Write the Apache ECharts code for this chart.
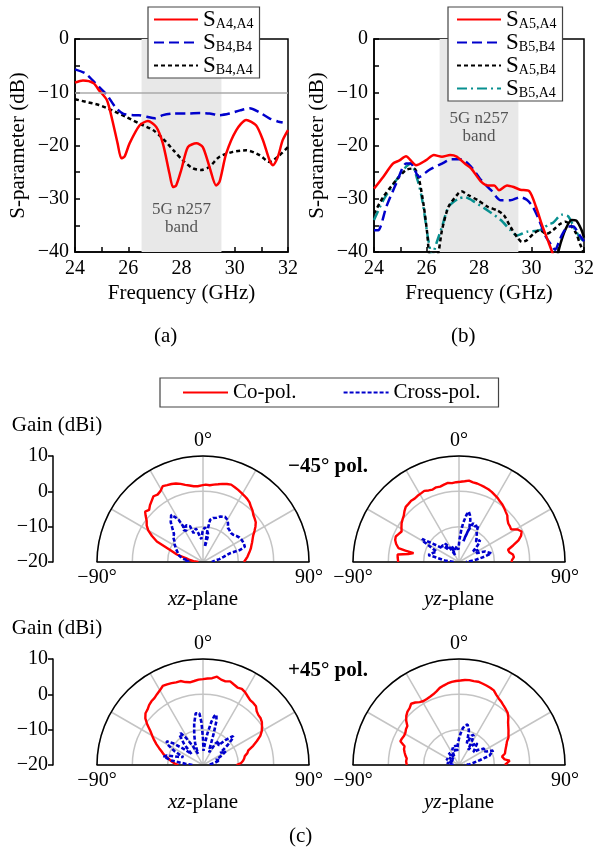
<!DOCTYPE html>
<html><head><meta charset="utf-8">
<script src="https://cdn.jsdelivr.net/npm/echarts@6/dist/echarts.min.js"></script>
<style>html,body{margin:0;padding:0;background:#fff}#c{width:597px;height:850px}</style>
</head><body><div id="c"></div>
<script>
// ---------- (a) data ----------
const aF_A4A4 = [24.0,24.3,24.7,24.9,25.2,25.4,25.6,25.74,25.86,26.05,26.43,26.74,27.05,27.3,27.55,27.68,27.8,27.99,28.24,28.56,28.8,29.05,29.3,29.43,29.68,30.06,30.43,30.8,31.06,31.31,31.43,31.62,31.8,32.0];
const aDb_A4A4 = [-8.2,-7.8,-8.3,-9.6,-11.5,-15.2,-19.6,-22.4,-22.1,-19.6,-16.2,-15.4,-16.5,-19.6,-25.3,-27.8,-27.5,-24.6,-20.3,-19.6,-20.3,-24.0,-27.5,-26.8,-21.5,-17.1,-15.2,-16.2,-19.0,-22.8,-23.7,-22.1,-19.0,-17.1];
const aF_B4B4 = [24,24.4,24.9,25.2,25.5,25.8,26.2,26.4,26.7,27.0,27.3,27.7,28.2,28.7,29.05,29.43,29.8,30.2,30.56,30.9,31.3,31.62,31.8];
const aDb_B4B4 = [-5.7,-6.5,-9.0,-10.5,-12.7,-14.0,-14.3,-14.3,-14.6,-14.9,-14.3,-14.0,-14.0,-13.9,-14.0,-14.3,-14.0,-13.4,-13.0,-13.7,-14.9,-15.5,-15.7];
const aF_B4A4 = [24,24.4,24.9,25.4,25.9,26.43,26.93,27.3,27.7,28.05,28.43,28.74,29.05,29.43,29.93,30.43,30.93,31.3,31.62,32.0];
const aDb_B4A4 = [-11.3,-11.8,-12.4,-13.4,-14.6,-15.9,-17.1,-18.7,-20.9,-22.8,-24.3,-24.6,-24.0,-22.1,-21.2,-20.9,-21.8,-23.1,-22.1,-20.3];
// ---------- (b) data ----------
const bF_A5A4 = [24,24.35,24.72,24.97,25.22,25.4,25.6,25.97,26.28,26.59,26.9,27.15,27.46,27.7,28.08,28.33,28.58,28.76,29.07,29.32,29.57,29.92,30.17,30.42,30.66,30.82,31.0,31.5,32];
const bDb_A5A4 = [-28.1,-25.9,-23.4,-22.8,-22.0,-22.8,-23.7,-22.8,-21.8,-22.1,-21.8,-22.1,-23.4,-24.3,-26.8,-27.5,-27.5,-28.4,-27.5,-27.8,-28.3,-28.6,-31.5,-35.2,-38.3,-40.5,-44,-48,-48];
const bF_B5B4 = [24,24.16,24.47,24.85,25.22,25.4,25.72,26.1,26.59,26.96,27.33,27.7,28.08,28.46,28.83,29.2,29.57,29.82,30.05,30.29,30.54,30.8,30.9,31.03,31.16,31.4,31.6,31.78,32];
const bDb_B5B4 = [-35.9,-35.9,-31.5,-27.1,-23.4,-23.4,-25.9,-24.6,-23.4,-22.6,-22.6,-24.0,-26.5,-28.4,-30.3,-30.3,-29.7,-30.2,-31.5,-34.0,-37.1,-39.0,-39.6,-38.3,-36.8,-35.2,-35.2,-36.5,-38.0];
const bF_A5B4 = [24,24.35,24.85,25.22,25.53,25.72,25.9,26.03,26.09,26.25,26.46,26.59,26.84,27.21,27.33,27.58,27.96,28.33,28.7,28.95,29.2,29.45,29.63,29.82,30.07,30.32,30.57,30.82,31.07,31.3,31.5,31.7,31.85,32];
const bDb_A5B4 = [-32.8,-29.7,-26.5,-24.6,-24.3,-26.5,-31.5,-36.6,-40,-44,-40,-35.9,-31.5,-29.0,-28.6,-29.3,-30.3,-31.5,-32.2,-33.1,-35.3,-37.2,-38.1,-37.8,-36.6,-35.9,-36.6,-35.9,-34.8,-34.3,-35.0,-36.5,-38.5,-40.2];
const bF_B5A4 = [24,24.35,24.85,25.22,25.4,25.66,25.84,26.03,26.15,26.22,26.28,26.59,26.84,27.21,27.46,27.83,28.33,28.83,29.2,29.45,29.82,30.32,30.66,30.82,31.16,31.4,31.66,31.85,32];
const bDb_B5A4 = [-34.0,-30.3,-26.5,-24.0,-23.4,-26.5,-30.3,-36.6,-40,-43,-40,-35.3,-31.5,-30.0,-29.7,-30.6,-32.2,-34.0,-35.9,-36.9,-36.2,-35.9,-34.8,-34.5,-33.0,-33.3,-35.8,-37.3,-38];
const bF_solid = [30.95,31.1,31.29,31.53,31.7,31.9,32];
const bDb_solid = [-41.5,-38.5,-35.8,-34.0,-34.1,-35.8,-37.3];
const bandStart = 26.5, bandEnd = 29.5, refLevel = -10;
const bandLabel = '5G n257\nband';
// ---------- (c) data: [angle (deg), gain (dBi)] ----------
const p1CoAng = [-90,-85,-80,-77,-74,-70,-66,-63,-60,-57,-54,-51,-49,-46,-43,-40,-37,-34,-31,-28,-25,-22,-19,-16,-13,-10,-7,-4,-1,2,5,8,11,14,17,20,23,26,29,32,35,38,41,44,47,50,53,56,59,62,65,68,71,74,77,80,83,86,90];
const p1CoGain = [-18.7,-17.3,-15.8,-15.0,-12.3,-10.1,-5.7,-3.8,-2.1,-1.0,-0.3,0.9,1.7,1.2,2.0,2.6,3.3,3.0,3.4,4.3,4.0,3.8,3.5,3.0,2.4,2.0,1.6,1.5,1.7,1.9,1.8,2.1,2.4,2.8,3.1,3.3,3.0,2.7,2.4,2.1,1.8,1.4,0.7,0.2,-0.5,-0.9,-1.3,-2.1,-3.0,-3.9,-4.5,-5.0,-5.5,-5.9,-6.4,-6.9,-7.3,-7.8,-8.4];
const p1XAng = [-90,-85,-80,-74,-70,-64,-58,-54,-50,-46,-42,-39,-36,-34,-32,-30,-29,-31,-28,-25,-23,-20,-18,-15,-12,-9,-7,-4,-1,1,3,6,9,11,9,7,8,9.5,13,17,21,26,30,33,36,40,44,48,52,56,60,65,70,72,72,76,80,85,90];
const p1XGain = [-15,-16,-14,-12.8,-12.4,-11.5,-10.5,-10,-9,-8.6,-7,-5.5,-4.6,-3.9,-5,-6.2,-8.5,-9.5,-10,-8.5,-8.2,-9.2,-11.4,-11,-10.3,-11.8,-12.7,-13.5,-11.5,-10.8,-10.2,-9.9,-11.5,-12.2,-14.5,-15.7,-11,-7.9,-7.2,-6.9,-6.2,-5.8,-6.2,-7,-8,-8.3,-8.6,-8.5,-8,-7.6,-7.4,-7.3,-7.4,-9.0,-12,-14,-15.3,-16.8,-17.5];
const p2CoAng = [-90,-86,-83,-81,-79,-78,-77,-74,-71,-68,-65,-62,-59,-56,-53,-50,-47,-44,-41,-38,-35,-32,-29,-26,-23,-20,-17,-14,-11,-8,-5,-2,1,4,7,10,13,16,19,22,25,28,31,34,37,40,43,46,49,52,55,58,61,64,67,70,73,76,79,82,85,88,90];
const p2CoGain = [-2.8,-2.6,-2.5,-5.5,-6.9,-4.5,-2.4,-1.5,-0.9,-0.7,-1.2,-1.6,-1.0,-0.4,0.0,0.4,1.1,1.7,1.8,2.0,1.9,2.1,2.2,2.4,2.0,1.8,2.1,2.0,2.3,2.6,2.4,2.6,2.7,2.9,3.2,2.9,2.8,2.6,2.4,2.2,1.9,1.5,1.2,0.7,0.4,-0.1,-0.6,-1.0,-1.8,-2.3,-2.4,-2.6,-1.0,-0.3,-0.9,-2.1,-4.0,-5.7,-5.5,-4.6,-4.4,-5.0,-5.1];
const p2XAng = [-90,-84,-77,-72,-65,-60,-58,-55,-50,-45,-40,-37,-33,-29,-25,-20,-14,-8,-3,1,4,6,9,11,13,15,17,14,12,16,20,24,27.6,30,35,40,44,48,53,58,63,68,75,78,82,85,90];
const p2XGain = [-18.5,-16,-11.1,-12,-13,-8.5,-7.7,-10.9,-14,-13.2,-15.5,-13.4,-15,-17.7,-15.2,-16.5,-17,-15.5,-16.5,-13.8,-11,-9,-6.5,-5.5,-6.3,-7.6,-10,-12.5,-14,-11,-8.3,-9,-8.2,-10,-11.2,-12.5,-11.4,-12.8,-15,-13.6,-14.5,-12,-10.5,-12.5,-15,-16.4,-18];
const p3CoAng = [-90,-87,-84,-81,-78,-75,-72,-69,-66,-63,-60,-57,-54,-51,-48,-45,-42,-39,-36,-33,-30,-27,-24,-21,-18,-15,-12,-9,-6,-3,0,3,6,9,12,15,18,21,24,27,30,33,36,39,42,45,48,51,54,57,60,63,66,69,72,75,78,81,84,87,90];
const p3CoGain = [-13.0,-12.0,-11.2,-10.6,-9.5,-8.5,-7.7,-6.7,-5.6,-4.5,-3.4,-2.2,-0.5,1.0,1.9,2.2,2.8,3.2,3.4,3.9,4.4,5.1,5.0,4.8,4.6,4.6,4.0,3.7,3.9,4.2,4.3,4.5,4.7,5.3,4.7,4.5,4.9,4.4,4.0,4.2,3.8,3.2,2.7,2.6,2.4,1.5,1.1,1.0,0.6,-0.1,-0.8,-1.8,-3.3,-4.8,-6.5,-7.0,-7.9,-8.2,-8.6,-9.2,-10.5];
const p3XAng = [-90,-86,-82,-78,-75,-72,-68,-64,-60,-57,-54,-50,-46,-42,-38,-35,-32,-28,-24,-20,-16,-12,-8,-6,-4,-2,0,2,5,8,11,13,15,17,19,22,26,30,34,38,42,46,48,51,55,59,63,68,74,80,86,90];
const p3XGain = [-17,-15,-11,-8.6,-9.5,-12.5,-14,-11,-8.5,-7.7,-9.5,-13,-15.5,-12,-9.3,-9,-11,-14,-16.5,-13.5,-11,-8,-5.2,-4.8,-5.3,-8,-12.5,-16,-14,-11,-7.5,-5.8,-5.3,-7,-11,-15,-16,-13,-11.8,-13,-10.5,-8.2,-8.6,-11,-14,-12.5,-14,-16,-15,-16.8,-18,-18.5];
const p4CoAng = [-90,-86,-83,-80,-77,-74,-71,-68,-65,-62,-59,-56,-53,-50,-47,-44,-41,-38,-35,-32,-29,-26,-23,-20,-17,-14,-11,-8,-5,-2,1,4,7,10,13,16,19,22,25,28,31,34,37,40,43,46,49,52,55,58,61,64,67,70,73,76,79,81,83,85,87,90];
const p4CoGain = [-5.2,-5.0,-5.1,-4.6,-4.2,-3.8,-3.7,-2.1,-2.2,-2.4,-2.3,-1.9,-1.7,-0.5,0.4,1.0,1.3,2.0,1.6,1.0,0.7,0.8,1.0,1.3,1.8,2.5,2.9,3.3,3.6,3.8,3.9,4.1,4.2,4.1,4.2,4.0,3.8,3.6,3.3,2.5,1.9,1.5,1.0,0.6,0.2,-0.6,-1.6,-2.3,-2.9,-3.5,-4.0,-4.9,-5.4,-5.9,-6.3,-6.6,-7.6,-8.2,-7.0,-5.6,-5.5,-7.0];
const p4XAng = [-90,-85,-80,-75,-70,-64,-58,-52,-46,-40,-35,-30,-25,-20,-15,-11,-7,-3,0,3,6,9,12,14,16,18,20,23,26,28,31,35,40,44,48,52,57,61,64,67,70,73,77,82,86,90];
const p4XGain = [-18.5,-17.5,-16.5,-18,-17,-16,-18,-16.5,-17.8,-15.5,-16.8,-17.5,-15.5,-14.8,-16,-14.2,-16,-14,-12.5,-11,-9.5,-8.6,-8.3,-8.5,-9.8,-12,-13.5,-11,-10.5,-12,-15,-13,-12,-12.2,-14.5,-13,-11.5,-12,-11.3,-9.5,-9.2,-11,-14,-16,-17,-18.5];
const gainTicks = [-20, 10, 10];  // min, max, step
const planeNames = ['xz', 'yz', 'xz', 'yz'];

// ---------- helpers ----------
const FF = '"Liberation Serif","Times New Roman",Times,serif';
const T = (s, o) => Object.assign({fontFamily: FF, fontSize: s, color: '#000'}, o || {});
const minus = v => String(v).replace('-', '\u2212');
const zip = (a, b) => a.map((v, i) => [v, b[i]]);
const BL = {color: '#000', width: 1.5};

const grids = [
  {left: 75, top: 39, width: 213, height: 213, show: true, borderColor: '#000', borderWidth: 1.5},
  {left: 374, top: 39, width: 215, height: 213, show: true, borderColor: '#000', borderWidth: 1.5}
];
const xAxes = [], yAxes = [];
[0, 1].forEach(g => {
  xAxes.push({type: 'value', gridIndex: g, min: 24, max: 32, interval: 2,
    axisLine: {onZero: false, lineStyle: BL}, axisTick: {inside: true, length: 5, lineStyle: BL},
    minorTick: {show: true, splitNumber: 2, length: 5, lineStyle: BL}, splitLine: {show: false},
    axisLabel: T(20, {margin: 7}), name: 'Frequency (GHz)', nameLocation: 'middle', nameGap: 31, nameTextStyle: T(21)});
  yAxes.push({type: 'value', gridIndex: g, min: -40, max: 0, interval: 10,
    axisLine: {onZero: false, lineStyle: BL}, axisTick: {inside: true, length: 5, lineStyle: BL},
    minorTick: {show: true, splitNumber: 2, length: 5, lineStyle: BL}, splitLine: {show: false},
    axisLabel: T(20, {margin: 6, formatter: minus}), name: 'S-parameter (dB)', nameLocation: 'middle', nameGap: 46, nameTextStyle: T(21)});
});

const R = 106;
const centers = [[203, 562], [459, 562], [203, 765], [459, 765]];
const polars = [], angleAxes = [], radiusAxes = [];
centers.forEach((c, i) => {
  polars.push({center: c, radius: R});
  angleAxes.push({polarIndex: i, type: 'value', min: -90, max: 90, interval: 30, startAngle: 180, endAngle: 0, clockwise: true,
    axisLine: {lineStyle: BL}, axisTick: {show: false},
    axisLabel: T(20, {margin: 5, formatter: v => (v === 0 ? '0\u00b0' : '')}),
    splitLine: {lineStyle: {color: '#c4c4c4', width: 1.5}}});
  radiusAxes.push({polarIndex: i, type: 'value', min: gainTicks[0], max: gainTicks[1], interval: gainTicks[2],
    axisLine: {show: false}, axisTick: {show: false}, axisLabel: {show: false},
    splitLine: {lineStyle: {color: '#c4c4c4', width: 1.5}}});
  const gi = grids.length;
  grids.push({left: c[0] - R, top: c[1] - R, width: 2 * R, height: R, show: false});
  xAxes.push({type: 'value', gridIndex: gi, min: -90, max: 90, interval: 90,
    axisLine: {onZero: false, lineStyle: BL}, axisTick: {show: false}, splitLine: {show: false},
    axisLabel: T(20, {margin: 6, formatter: v => (v === -90 ? '\u221290\u00b0' : v === 90 ? '90\u00b0' : '')}),
    name: '{i|' + planeNames[i] + '}-plane', nameLocation: 'middle', nameGap: 23,
    nameTextStyle: T(21, {rich: {i: T(21, {fontStyle: 'italic'})}})});
  yAxes.push({type: 'value', gridIndex: gi, min: gainTicks[0], max: gainTicks[1], interval: gainTicks[2],
    show: i % 2 === 0, offset: c[0] - R - 53,
    axisLine: {onZero: false, lineStyle: BL}, axisTick: {length: 5, lineStyle: BL}, splitLine: {show: false},
    axisLabel: T(20, {margin: 5, formatter: minus}),
    name: 'Gain (dBi)', nameLocation: 'end', nameGap: 20, nameTextStyle: T(21, {padding: [0, 0, 0, 8]})});
});

const RED = '#ff0000', BLUE = '#0000cc', TEAL = '#089090';
const cs = (name, gi, f, d, color, type, extra) => Object.assign({
  name, type: 'line', xAxisIndex: gi, yAxisIndex: gi, data: zip(f, d), symbol: 'none', smooth: 0.25, z: 3,
  color, lineStyle: {color, width: 2.5, type}}, extra || {});
const band = gi => ({type: 'line', xAxisIndex: gi, yAxisIndex: gi, data: [], z: 1, silent: true,
  markArea: {silent: true, itemStyle: {color: '#e8e8e8'},
    label: T(17, {color: '#555', lineHeight: 18, position: gi === 0 ? 'insideBottom' : 'insideTop', distance: gi === 0 ? 15 : 71, formatter: bandLabel}),
    data: [[{xAxis: bandStart}, {xAxis: bandEnd}]]},
  markLine: gi === 0 ? {silent: true, symbol: 'none', label: {show: false}, lineStyle: {color: '#aaa', width: 1.5, type: 'solid'}, data: [{yAxis: refLevel}]} : undefined});

const series = [
  band(0), band(1),
  cs('S_B4,A4', 0, aF_B4A4, aDb_B4A4, '#000', [4, 3]),
  cs('S_B4,B4', 0, aF_B4B4, aDb_B4B4, BLUE, [10, 5]),
  cs('S_A4,A4', 0, aF_A4A4, aDb_A4A4, RED, 'solid'),
  cs('S_B5,A4', 1, bF_B5A4, bDb_B5A4, TEAL, [10, 4, 2, 4]),
  cs('S_A5,B4', 1, bF_A5B4, bDb_A5B4, '#000', [4, 3]),
  cs('solidA5B4', 1, bF_solid, bDb_solid, '#000', 'solid'),
  cs('S_B5,B4', 1, bF_B5B4, bDb_B5B4, BLUE, [10, 5]),
  cs('S_A5,A4', 1, bF_A5A4, bDb_A5A4, RED, 'solid')
];
const pat = [[p1CoAng, p1CoGain, p1XAng, p1XGain], [p2CoAng, p2CoGain, p2XAng, p2XGain],
             [p3CoAng, p3CoGain, p3XAng, p3XGain], [p4CoAng, p4CoGain, p4XAng, p4XGain]];
pat.forEach((p, i) => {
  series.push({name: 'Co-pol.', type: 'line', coordinateSystem: 'polar', polarIndex: i, symbol: 'none', z: 4,
    color: RED, lineStyle: {color: RED, width: 2.4}, data: zip(p[1], p[0])});
  series.push({name: 'Cross-pol.', type: 'line', coordinateSystem: 'polar', polarIndex: i, symbol: 'none', z: 5,
    color: BLUE, lineStyle: {color: BLUE, width: 2.6, type: [4, 2]}, data: zip(p[3], p[2])});
});

const hideSym = {color: 'rgba(0,0,0,0)', borderColor: 'rgba(0,0,0,0)', borderWidth: 0};
const legRich = {s: T(23), b: T(14, {padding: [9, 0, 0, 0]})};
const legFmt = n => { const k = n.split('_'); return '{s|' + k[0] + '}{b|' + k[1] + '}'; };
const legBase = {orient: 'vertical', itemWidth: 44, itemHeight: 14, itemGap: 0, backgroundColor: '#fff',
  borderColor: '#444', borderWidth: 1.2, selectedMode: false, formatter: legFmt, itemStyle: hideSym,
  textStyle: T(23, {rich: legRich})};

const option = {
  animation: false,
  backgroundColor: '#fff',
  textStyle: {fontFamily: FF},
  grid: grids, xAxis: xAxes, yAxis: yAxes,
  polar: polars, angleAxis: angleAxes, radiusAxis: radiusAxes,
  legend: [
    Object.assign({}, legBase, {left: 148, top: 7, padding: [1, 6, 1, 5], data: ['S_A4,A4', 'S_B4,B4', 'S_B4,A4']}),
    Object.assign({}, legBase, {left: 448, top: 7, padding: [1, 6, 1, 8], data: ['S_A5,A4', 'S_B5,B4', 'S_A5,B4', 'S_B5,A4']}),
    {orient: 'horizontal', left: 160, top: 378, itemWidth: 45, itemHeight: 14, itemGap: 46, padding: [4, 18, 4, 22],
      backgroundColor: '#fff', borderColor: '#444', borderWidth: 1.2, selectedMode: false, itemStyle: hideSym,
      textStyle: T(21), data: ['Co-pol.', 'Cross-pol.']}
  ],
  title: [
    {text: '(a)', left: 154, top: 326, padding: 0, textStyle: T(21, {fontWeight: 'normal'})},
    {text: '(b)', left: 451, top: 326, padding: 0, textStyle: T(21, {fontWeight: 'normal'})},
    {text: '(c)', left: 289, top: 826, padding: 0, textStyle: T(21, {fontWeight: 'normal'})},
    {text: '\u221245\u00b0 pol.', left: 288, top: 456, padding: 0, textStyle: T(21, {fontWeight: 'bold'})},
    {text: '+45\u00b0 pol.', left: 288, top: 660, padding: 0, textStyle: T(21, {fontWeight: 'bold'})}
  ],
  series
};
const chart = echarts.init(document.getElementById('c'), null, {renderer: 'canvas'});
chart.setOption(option);
</script></body></html>
